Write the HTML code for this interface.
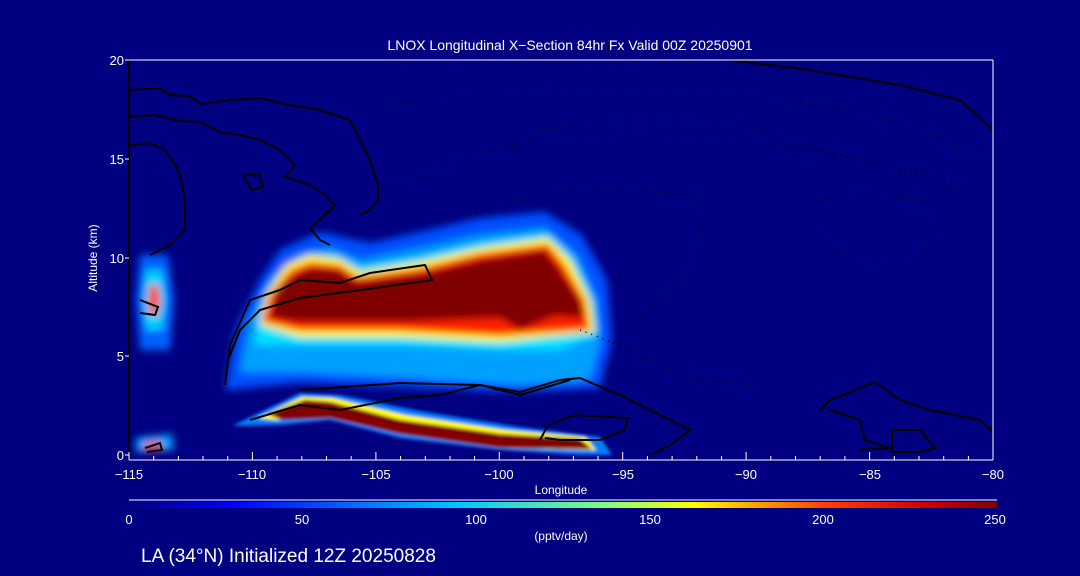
<!DOCTYPE html>
<html><head><style>
html,body{margin:0;padding:0;background:#000080;overflow:hidden;}
svg{display:block;}
svg text{font-family:"Liberation Sans",sans-serif;fill:#fff;}
</style></head><body>
<svg width="1080" height="576" viewBox="0 0 1080 576" xmlns="http://www.w3.org/2000/svg">
<defs>
<filter id="b" x="-20%" y="-20%" width="140%" height="140%"><feGaussianBlur stdDeviation="4"/></filter>
<filter id="s" x="-20%" y="-20%" width="140%" height="140%"><feGaussianBlur stdDeviation="1.5"/></filter>
<linearGradient id="cb" x1="0" x2="1" y1="0" y2="0">
<stop offset="0" stop-color="#000080"/><stop offset="0.12" stop-color="#0000ff"/>
<stop offset="0.38" stop-color="#00c8ff"/><stop offset="0.55" stop-color="#80ff80"/>
<stop offset="0.65" stop-color="#ffff00"/><stop offset="0.8" stop-color="#ff4000"/>
<stop offset="0.92" stop-color="#d00000"/><stop offset="1" stop-color="#800000"/>
</linearGradient>
</defs>
<rect width="1080" height="576" fill="#000080"/>
<g filter="url(#b)">
<polygon fill="#0050ff" points="225,390 235,330 260,280 280,250 320,232 370,243 420,232 480,218 545,212 582,235 607,280 612,340 600,388 520,392 400,387 300,383"/>
<polygon fill="#00a0ff" points="240,372 250,320 270,280 300,255 330,248 360,260 420,248 480,235 545,228 577,255 597,300 600,340 590,380 520,385 400,377 300,372"/>
<polygon fill="#00e0ff" points="255,345 260,310 280,275 305,258 335,256 360,268 420,258 480,244 547,234 572,258 592,300 596,335 560,350 500,350 400,345 300,345"/>
<polygon fill="#ffff00" points="260,325 266,295 286,265 310,255 340,259 360,272 420,262 480,248 548,238 570,260 590,300 595,332 500,342 400,337 300,337"/>
<polygon fill="#ff2000" points="262,322 270,295 290,270 310,262 340,265 358,277 420,268 480,253 548,244 565,265 585,300 590,330 500,336 400,331 300,331"/>
<polygon fill="#800000" points="270,318 276,290 295,275 310,268 340,270 355,282 420,274 480,260 545,250 560,270 580,300 584,318 555,316 520,330 500,318 400,322 300,322"/>
<polygon fill="#0060ff" points="140,255 168,255 174,300 170,350 140,350 136,300"/>
<polygon fill="#00d0ff" points="146,270 162,270 166,300 162,330 146,330 143,300"/>
<polygon fill="#ff4000" points="150,285 158,285 160,300 158,315 150,315 148,300"/>
<polygon fill="#00a0ff" points="136,438 172,434 174,450 136,452"/>
<polygon fill="#ff3000" points="144,444 158,441 162,449 146,451"/>
</g>
<g filter="url(#s)">
<polygon fill="#0080ff" points="232,426 300,393 340,395 420,411 520,427 600,437 612,455 580,455 500,450 400,438 330,420 280,425"/>
<polygon fill="#ffff00" points="258,418 302,397 332,398 405,415 505,430 585,437 596,450 500,448 400,434 330,418 276,420"/>
<polygon fill="#800000" points="268,414 305,400 330,402 400,420 500,434 580,439 592,449 500,448 400,434 330,418 282,420"/>
</g>
<g fill="none" stroke="#000" stroke-width="2">
<polyline points="129,60 129,455"/>
<polyline points="129,117 155,115 180,121 200,122 220,132 240,135 260,140 280,150 295,165 285,177 310,185 325,195 335,205 325,215 310,228 320,240 330,245"/>
<polyline points="129,145 150,143 165,150 175,165 180,175 185,200 185,230 170,245 150,255"/>
<polyline points="129,90 160,88 170,95 190,96 200,104 230,100 260,98 290,105 320,110 350,120 360,140 370,160 378,185 378,200 370,210 360,215"/>
<polyline points="243,175 260,174 263,187 252,190 243,175"/>
<polyline points="225,385 230,345 250,300 280,290 300,280 340,283 370,273 425,265 432,280 360,290 300,298 260,310 240,330 228,360 225,385"/>
<polyline points="250,420 300,405 340,410 400,398 440,395 480,385 520,392 560,380 580,378 620,395 660,415 690,430 670,445 650,455"/>
<polyline points="300,390 400,383 480,385 520,395 570,380"/>
<polyline points="540,440 548,425 575,415 628,418 625,430 600,440 560,440 545,438"/>
<polyline points="820,410 830,400 875,382 900,400 930,410 980,420 993,432"/>
<polyline points="830,410 860,420 865,440 890,448 860,450"/>
<polyline points="892,430 920,430 935,448 920,452 892,452 892,430"/>
<polyline points="729,60 810,70 900,85 960,100 993,130"/>
<polyline points="140,300 158,307 155,315 140,313"/>
<polyline points="145,448 160,443 162,450 147,452"/>
</g>
<g fill="none" stroke="#000" stroke-width="1.5" stroke-dasharray="1,5">
<polyline points="390,105 450,95 550,88 650,90 750,95 850,110 950,140 990,160"/>
<polyline points="380,200 450,160 540,140 640,135 740,140 840,155 950,180 993,200"/>
<polyline points="470,215 560,190 650,190 700,200 700,230 690,265 660,300 630,330"/>
<polyline points="820,200 860,190 920,200 940,230 920,260 870,265 830,250 820,225"/>
<polyline points="540,130 600,120 700,120 760,130 820,150 900,170 960,190"/>
<polyline points="580,330 620,345 660,365 700,380 760,385"/>
</g>
<line x1="129" y1="60" x2="993" y2="60" stroke="#fff"/>
<line x1="993" y1="60" x2="993" y2="460" stroke="#fff"/>
<line x1="129" y1="460" x2="993" y2="460" stroke="#fff"/>
<g stroke="#fff">
<path d="M129 460v-8M153.7 460v-4M178.4 460v-4M203 460v-4M227.7 460v-4M252.4 460v-8M277.1 460v-4M301.8 460v-4M326.5 460v-4M351.2 460v-4M375.9 460v-8M400.6 460v-4M425.3 460v-4M450 460v-4M474.6 460v-4M499.3 460v-8M524 460v-4M548.7 460v-4M573.4 460v-4M598 460v-4M622.7 460v-8M647.4 460v-4M672.1 460v-4M696.8 460v-4M721.5 460v-4M746.1 460v-8M770.8 460v-4M795.5 460v-4M820.2 460v-4M844.9 460v-4M869.6 460v-8M894.3 460v-4M919 460v-4M943.7 460v-4M968.4 460v-4M993 460v-8"/>
<path d="M125 60h4M125 159h4M125 258h4M125 356h4M125 455h4"/>
</g>
<g font-size="13" text-anchor="middle">
<text x="129" y="479">−115</text><text x="252" y="479">−110</text><text x="376" y="479">−105</text>
<text x="499" y="479">−100</text><text x="623" y="479">−95</text><text x="746" y="479">−90</text>
<text x="870" y="479">−85</text><text x="993" y="479">−80</text>
<text x="561" y="494" font-size="12">Longitude</text>
<text x="570" y="50" font-size="14">LNOX Longitudinal X−Section 84hr  Fx Valid 00Z 20250901</text>
</g>
<g font-size="13" text-anchor="end">
<text x="124" y="460">0</text><text x="124" y="361">5</text><text x="124" y="263">10</text>
<text x="124" y="164">15</text><text x="124" y="65">20</text>
</g>
<text x="97" y="258" font-size="12" text-anchor="middle" transform="rotate(-90 97 258)">Altitude (km)</text>
<line x1="129" y1="500" x2="997" y2="500" stroke="#fff"/>
<rect x="129" y="502" width="868" height="6" fill="url(#cb)"/>
<g font-size="13" text-anchor="middle">
<text x="129" y="524">0</text><text x="302" y="524">50</text><text x="476" y="524">100</text>
<text x="650" y="524">150</text><text x="823" y="524">200</text><text x="995" y="524">250</text>
<text x="561" y="540" font-size="12">(pptv/day)</text>
</g>
<text x="141" y="562" font-size="19">LA (34°N) Initialized 12Z 20250828</text>
</svg>
</body></html>
